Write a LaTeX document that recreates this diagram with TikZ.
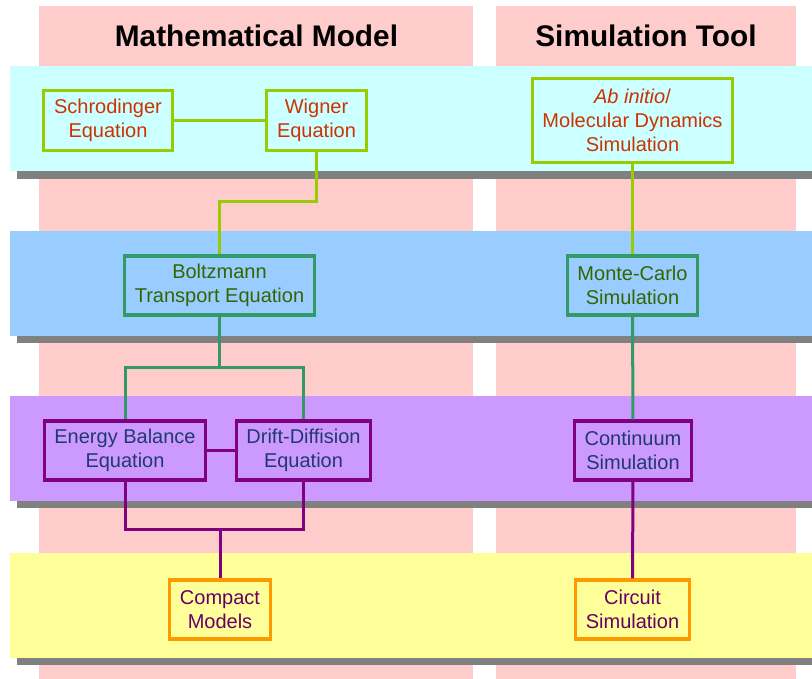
\documentclass[tikz,border=0pt]{standalone}
\usepackage{fontspec}
\setmainfont{Liberation Sans}

\definecolor{colpink}{HTML}{FFCCCC}
\definecolor{bandcyan}{HTML}{CCFFFF}
\definecolor{bandblue}{HTML}{99CCFF}
\definecolor{bandviolet}{HTML}{CC99FF}
\definecolor{bandyellow}{HTML}{FFFF99}
\definecolor{bandshadow}{HTML}{808080}
\definecolor{limeline}{HTML}{99CC00}
\definecolor{rusttext}{HTML}{CC3300}
\definecolor{sealine}{HTML}{339966}
\definecolor{greentext}{HTML}{336600}
\definecolor{plumline}{HTML}{800080}
\definecolor{navytext}{HTML}{1F3A70}
\definecolor{orangeline}{HTML}{FF9900}
\definecolor{plumtext}{HTML}{660066}

\tikzstyle{heading} = [anchor=base, font=\fontsize{29.8}{34}\selectfont\bfseries]
\tikzstyle{level} = [align=center, line width=3.2pt, inner sep=2pt,
    font=\fontsize{20}{24}\selectfont]
\tikzstyle{quantumbox} = [level, draw=limeline, text=rusttext]
\tikzstyle{transportbox} = [level, draw=sealine, text=greentext]
\tikzstyle{continuumbox} = [level, draw=plumline, text=navytext]
\tikzstyle{circuitbox} = [level, draw=orangeline, text=plumtext]
\tikzstyle{quantumlink} = [draw=limeline, line width=3pt]
\tikzstyle{transportlink} = [draw=sealine, line width=3pt]
\tikzstyle{continuumlink} = [draw=plumline, line width=3pt]

\begin{document}
\begin{tikzpicture}[x=1pt, y=-1pt]
\useasboundingbox (0,0) rectangle (812,679);

\fill[colpink] (39,6) rectangle (473,679);
\fill[colpink] (496,6) rectangle (796,679);

\fill[bandcyan] (10,66) rectangle (812,171);
\fill[bandshadow] (17,171) rectangle (812,179);
\fill[bandblue] (10,231) rectangle (812,336);
\fill[bandshadow] (17,336) rectangle (812,343);
\fill[bandviolet] (10,396) rectangle (812,501);
\fill[bandshadow] (17,501) rectangle (812,508);
\fill[bandyellow] (10,553) rectangle (812,658);
\fill[bandshadow] (17,658) rectangle (812,665);

\node[heading] (mathtitle) at (256.5,47) {Mathematical Model};
\node[heading] (simtitle) at (646,47) {Simulation Tool};

\node[quantumbox, minimum width=129pt, minimum height=60pt]
    (schrodinger) at (108,120.5) {Schrodinger\\Equation};
\node[quantumbox, minimum width=100pt, minimum height=60pt]
    (wigner) at (316.5,120.5) {Wigner\\Equation};
\node[quantumbox, minimum width=200pt, minimum height=84pt]
    (abinitio) at (632.5,120.5)
    {\textit{Ab initio}/\\Molecular Dynamics\\Simulation};

\node[transportbox, minimum width=190pt, minimum height=59pt]
    (boltzmann) at (219.5,285.5) {Boltzmann\\Transport Equation};
\node[transportbox, minimum width=130pt, minimum height=59pt]
    (montecarlo) at (632.5,285.5) {Monte-Carlo\\Simulation};

\node[continuumbox, minimum width=161pt, minimum height=59pt]
    (energybalance) at (125,450.5) {Energy Balance\\Equation};
\node[continuumbox, minimum width=134pt, minimum height=59pt]
    (driftdiffusion) at (303.5,450.5) {Drift-Diffision\\Equation};
\node[continuumbox, minimum width=117pt, minimum height=59pt]
    (continuum) at (633,450.5) {Continuum\\Simulation};

\node[circuitbox, minimum width=101pt, minimum height=59pt]
    (compact) at (220,609.5) {Compact\\Models};
\node[circuitbox, minimum width=114pt, minimum height=59pt]
    (circuit) at (632.5,609.5) {Circuit\\Simulation};

\draw[quantumlink] (schrodinger) -- (wigner);
\draw[quantumlink] (wigner.south) -- ++(0,49) -| (boltzmann.north);
\draw[quantumlink] (abinitio) -- (montecarlo);

\draw[transportlink] (boltzmann.south) -- ++(0,51) -| (energybalance.north);
\draw[transportlink] (boltzmann.south) -- ++(0,51) -| (driftdiffusion.north);
\draw[transportlink] (montecarlo) -- (continuum);

\draw[continuumlink] (energybalance) -- (driftdiffusion);
\draw[continuumlink] (energybalance.south) -- ++(0,48) -| (compact.north);
\draw[continuumlink] (driftdiffusion.south) -- ++(0,48) -| (compact.north);
\draw[continuumlink] (continuum) -- (circuit);
\end{tikzpicture}
\end{document}
